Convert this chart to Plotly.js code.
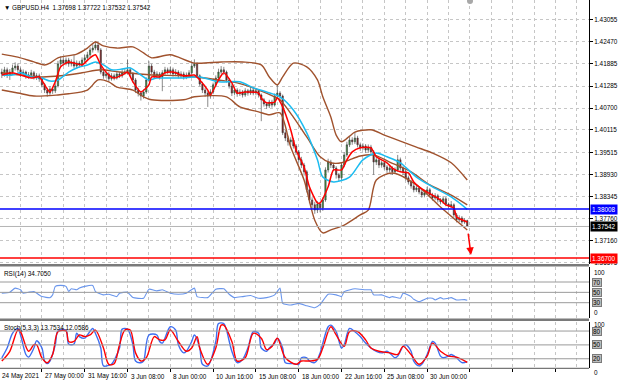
<!DOCTYPE html>
<html><head><meta charset="utf-8">
<script src="https://cdn.plot.ly/plotly-3.0.1.min.js"></script>
<style>html,body{margin:0;padding:0;background:#fff}#c{width:620px;height:383px}</style>
</head><body><div id="c"></div>
<script>
// ---------------- DATA (GBPUSD H4, bar index 0 = 24 May 2021) ----------------
const openP = [1.4166,1.4161,1.4172,1.4158,1.4166,1.4177,1.4182,1.4172,1.4161,1.4166,
1.4156,1.4158,1.4164,1.4153,1.4156,1.4148,1.4132,1.4118,1.4110,1.4121,
1.4116,1.4129,1.4188,1.4198,1.4190,1.4198,1.4188,1.4193,1.4182,1.4190,
1.4185,1.4198,1.4204,1.4212,1.4225,1.4230,1.4238,1.4225,1.4166,1.4156,
1.4161,1.4148,1.4156,1.4150,1.4161,1.4156,1.4164,1.4166,1.4172,1.4161,
1.4145,1.4118,1.4110,1.4102,1.4113,1.4145,1.4182,1.4166,1.4156,1.4161,
1.4153,1.4164,1.4172,1.4166,1.4172,1.4161,1.4166,1.4156,1.4161,1.4153,
1.4158,1.4164,1.4182,1.4188,1.4156,1.4134,1.4118,1.4110,1.4102,1.4113,
1.4132,1.4150,1.4166,1.4172,1.4166,1.4145,1.4129,1.4110,1.4118,1.4108,
1.4113,1.4105,1.4116,1.4110,1.4118,1.4110,1.4116,1.4105,1.4092,1.4081,
1.4076,1.4086,1.4078,1.4102,1.4110,1.4102,1.4004,1.3990,1.3980,1.3985,
1.3969,1.3953,1.3932,1.3918,1.3900,1.3852,1.3825,1.3812,1.3798,1.3814,
1.3804,1.3825,1.3905,1.3926,1.3918,1.3910,1.3892,1.3884,1.3918,1.3945,
1.3972,1.3985,1.3980,1.3990,1.3972,1.3964,1.3969,1.3958,1.3966,1.3953,
1.3926,1.3932,1.3918,1.3924,1.3913,1.3905,1.3910,1.3900,1.3905,1.3932,
1.3910,1.3900,1.3884,1.3873,1.3862,1.3852,1.3857,1.3846,1.3838,1.3844,
1.3852,1.3838,1.3830,1.3836,1.3825,1.3820,1.3828,1.3814,1.3809,1.3812,
1.3785,1.3772,1.3777,1.3766,1.37698];
const highP = [1.4175,1.4180,1.4178,1.4174,1.4186,1.4192,1.4189,1.4178,1.4173,1.4170,
1.4166,1.4172,1.4169,1.4163,1.4162,1.4154,1.4137,1.4124,1.4128,1.4127,
1.4136,1.4196,1.4208,1.4206,1.4205,1.4204,1.4200,1.4212,1.4197,1.4196,
1.4205,1.4212,1.4220,1.4232,1.4240,1.4249,1.4244,1.4230,1.4172,1.4168,
1.4166,1.4163,1.4162,1.4168,1.4166,1.4175,1.4176,1.4200,1.4178,1.4166,
1.4150,1.4124,1.4116,1.4120,1.4152,1.4195,1.4188,1.4172,1.4168,1.4166,
1.4171,1.4180,1.4178,1.4180,1.4178,1.4174,1.4171,1.4168,1.4167,1.4165,
1.4171,1.4190,1.4200,1.4192,1.4160,1.4140,1.4124,1.4115,1.4120,1.4138,
1.4157,1.4175,1.4182,1.4180,1.4170,1.4150,1.4134,1.4125,1.4123,1.4120,
1.4118,1.4123,1.4121,1.4126,1.4123,1.4122,1.4120,1.4109,1.4097,1.4086,
1.4092,1.4092,1.4109,1.4132,1.4115,1.4106,1.4012,1.3996,1.3992,1.3990,
1.3974,1.3958,1.3940,1.3924,1.3905,1.3860,1.3832,1.3820,1.3822,1.3820,
1.3832,1.3912,1.3935,1.3932,1.3924,1.3915,1.3897,1.3925,1.3952,1.3980,
1.3995,1.3992,1.4006,1.3996,1.3978,1.3976,1.3974,1.3973,1.3972,1.3958,
1.3940,1.3938,1.3930,1.3929,1.3918,1.3917,1.3915,1.3912,1.3945,1.3938,
1.3915,1.3905,1.3890,1.3878,1.3868,1.3864,1.3862,1.3852,1.3851,1.3860,
1.3857,1.3844,1.3843,1.3841,1.3830,1.3835,1.3833,1.3818,1.3822,1.3816,
1.3790,1.3784,1.3782,1.3776,1.37722];
const lowP = [1.4150,1.4154,1.4150,1.4145,1.4160,1.4170,1.4165,1.4152,1.4155,1.4148,
1.4148,1.4152,1.4146,1.4145,1.4140,1.4125,1.4110,1.4100,1.4103,1.4108,
1.4110,1.4125,1.4182,1.4183,1.4184,1.4180,1.4181,1.4176,1.4175,1.4178,
1.4180,1.4192,1.4198,1.4206,1.4218,1.4224,1.4218,1.4160,1.4148,1.4150,
1.4141,1.4143,1.4144,1.4146,1.4150,1.4151,1.4158,1.4160,1.4154,1.4138,
1.4110,1.4101,1.4090,1.4095,1.4108,1.4140,1.4160,1.4148,1.4150,1.4146,
1.4115,1.4158,1.4160,1.4160,1.4154,1.4155,1.4149,1.4150,1.4146,1.4147,
1.4152,1.4160,1.4177,1.4150,1.4128,1.4110,1.4100,1.4073,1.4095,1.4107,
1.4127,1.4145,1.4160,1.4158,1.4138,1.4122,1.4102,1.4104,1.4100,1.4102,
1.4098,1.4100,1.4103,1.4105,1.4104,1.4104,1.4098,1.4035,1.4074,1.4068,
1.4070,1.4071,1.4074,1.4096,1.4094,1.3998,1.3982,1.3970,1.3972,1.3962,
1.3945,1.3925,1.3910,1.3890,1.3845,1.3816,1.3800,1.3788,1.3790,1.3792,
1.3796,1.3820,1.3898,1.3910,1.3902,1.3882,1.3875,1.3878,1.3912,1.3940,
1.3966,1.3972,1.3974,1.3965,1.3956,1.3958,1.3950,1.3952,1.3946,1.3892,
1.3918,1.3910,1.3911,1.3906,1.3897,1.3898,1.3892,1.3894,1.3900,1.3903,
1.3892,1.3877,1.3866,1.3855,1.3845,1.3846,1.3840,1.3831,1.3832,1.3838,
1.3832,1.3823,1.3824,1.3818,1.3813,1.3814,1.3808,1.3802,1.3803,1.3778,
1.3765,1.3766,1.3760,1.3761,1.37532];
const closeP = [1.4161,1.4172,1.4158,1.4166,1.4177,1.4182,1.4172,1.4161,1.4166,1.4156,
1.4158,1.4164,1.4153,1.4156,1.4148,1.4132,1.4118,1.4110,1.4121,1.4116,
1.4129,1.4188,1.4198,1.4190,1.4198,1.4188,1.4193,1.4182,1.4190,1.4185,
1.4198,1.4204,1.4212,1.4225,1.4230,1.4238,1.4225,1.4166,1.4156,1.4161,
1.4148,1.4156,1.4150,1.4161,1.4156,1.4164,1.4166,1.4172,1.4161,1.4145,
1.4118,1.4110,1.4102,1.4113,1.4145,1.4182,1.4166,1.4156,1.4161,1.4153,
1.4164,1.4172,1.4166,1.4172,1.4161,1.4166,1.4156,1.4161,1.4153,1.4158,
1.4164,1.4182,1.4188,1.4156,1.4134,1.4118,1.4110,1.4102,1.4113,1.4132,
1.4150,1.4166,1.4172,1.4166,1.4145,1.4129,1.4110,1.4118,1.4108,1.4113,
1.4105,1.4116,1.4110,1.4118,1.4110,1.4116,1.4105,1.4092,1.4081,1.4076,
1.4086,1.4078,1.4102,1.4110,1.4102,1.4004,1.3990,1.3980,1.3985,1.3969,
1.3953,1.3932,1.3918,1.3900,1.3852,1.3825,1.3812,1.3798,1.3814,1.3804,
1.3825,1.3905,1.3926,1.3918,1.3910,1.3892,1.3884,1.3918,1.3945,1.3972,
1.3985,1.3980,1.3990,1.3972,1.3964,1.3969,1.3958,1.3966,1.3953,1.3926,
1.3932,1.3918,1.3924,1.3913,1.3905,1.3910,1.3900,1.3905,1.3932,1.3910,
1.3900,1.3884,1.3873,1.3862,1.3852,1.3857,1.3846,1.3838,1.3844,1.3852,
1.3838,1.3830,1.3836,1.3825,1.3820,1.3828,1.3814,1.3809,1.3812,1.3785,
1.3772,1.3777,1.3766,1.3770,1.37542];

// Bollinger bands (20)
const upperBars = [0,6,12,16,18,21,28,32,35,38,43,49,53,56,63,72,82,90,97,100,103,105,109,114,118,120,123,125,127,130,132,138,143,149,155,161,168,174];
const upperVals = [1.4214,1.4206,1.4193,1.4185,1.4190,1.4204,1.4214,1.4230,1.4246,1.4236,1.4230,1.4233,1.4217,1.4204,1.4212,1.4190,1.4193,1.4193,1.4185,1.4153,1.4132,1.4153,1.4190,1.4180,1.4145,1.4100,1.4046,1.3998,1.3980,1.3995,1.4006,1.4012,1.3998,1.3982,1.3966,1.3950,1.3924,1.3878];
const midBars = [0,7,15,22,30,37,44,56,68,81,88,96,102,104,109,114,119,123,127,130,134,139,145,153,160,168,174];
const midVals = [1.4164,1.4158,1.4153,1.4156,1.4164,1.4172,1.4166,1.4158,1.4156,1.4145,1.4137,1.4118,1.4100,1.4092,1.4046,1.3993,1.3940,1.3924,1.3924,1.3932,1.3942,1.3945,1.3926,1.3900,1.3865,1.3838,1.3812];
const lowerBars = [0,6,12,21,25,32,36,40,43,49,53,56,68,72,84,89,96,100,104,108,113,117,120,123,128,134,137,140,146,155,164,174];
const lowerVals = [1.4118,1.4110,1.4102,1.4105,1.4108,1.4118,1.4145,1.4140,1.4126,1.4118,1.4100,1.4092,1.4092,1.4100,1.4100,1.4073,1.4060,1.4052,1.4057,1.3966,1.3878,1.3771,1.3737,1.3745,1.3758,1.3785,1.3798,1.3878,1.3897,1.3865,1.3806,1.3745];
// slow MA (cyan)
const cyanBars = [0,4,7,11,15,18,21,25,28,32,35,38,41,45,48,52,55,58,67,74,81,89,94,99,104,109,114,118,120,124,130,135,140,144,149,155,161,168,174];
const cyanVals = [1.4158,1.4158,1.4164,1.4153,1.4150,1.4142,1.4145,1.4166,1.4177,1.4185,1.4193,1.4185,1.4172,1.4174,1.4177,1.4158,1.4145,1.4150,1.4150,1.4153,1.4140,1.4140,1.4124,1.4113,1.4100,1.4065,1.4004,1.3932,1.3886,1.3873,1.3886,1.3932,1.3950,1.3940,1.3924,1.3886,1.3860,1.3833,1.3800];
// fast MA (red)
const redBars = [0,4,7,11,14,16,18,20,22,25,27,30,33,35,37,40,42,45,47,49,52,55,56,59,61,64,68,72,74,77,78,81,83,86,88,91,96,97,99,102,103,105,108,110,113,115,118,119,122,124,127,129,131,134,138,140,144,146,149,152,154,156,159,161,164,166,169,170,172,174];
const redVals = [1.4158,1.4164,1.4158,1.4150,1.4153,1.4132,1.4113,1.4140,1.4180,1.4193,1.4190,1.4185,1.4204,1.4212,1.4185,1.4158,1.4150,1.4158,1.4166,1.4140,1.4113,1.4132,1.4153,1.4153,1.4164,1.4166,1.4156,1.4158,1.4145,1.4118,1.4105,1.4145,1.4164,1.4137,1.4110,1.4113,1.4110,1.4097,1.4084,1.4086,1.4097,1.4073,1.4012,1.3958,1.3913,1.3860,1.3817,1.3817,1.3860,1.3905,1.3905,1.3932,1.3953,1.3964,1.3964,1.3940,1.3924,1.3910,1.3900,1.3897,1.3873,1.3860,1.3846,1.3838,1.3825,1.3812,1.3804,1.3780,1.3772,1.3766];

// RSI(14)
const rsiBars = [0,3,5,7,8,10,12,15,18,19,20,22,24,25,26,28,29,31,34,35,38,40,43,44,47,49,53,55,58,60,63,66,69,72,73,77,80,83,85,87,90,93,96,99,102,104,105,108,111,114,117,119,122,125,127,128,132,136,138,139,142,145,146,149,150,153,154,156,159,161,162,164,165,167,168,170,173,174];
const rsiVals = [48.4,50.3,58.2,54.9,48.4,50.3,51.6,41.8,39.8,45.1,61.5,63.4,61.5,51.6,56.9,54.9,58.2,61.5,63.4,51.6,45.1,46.4,41.8,48.4,50.3,39.8,38.5,56.2,52.9,54.9,48.4,46.4,48.4,58.2,41.8,39.8,56.2,56.9,46.4,39.8,41.8,43.8,38.5,39.8,45.1,58.2,28.7,25.4,28.7,24.1,20.1,26.7,46.4,45.1,41.8,51.6,56.9,54.9,54.9,45.1,45.1,39.8,41.8,38.5,48.4,41.8,36.5,32,38.5,38.5,35.2,39.8,37.2,38.5,39.8,35.2,35.9,34.7];
// Stochastic(5,3,3)
const stochMainBars = [0,2,4,6,7,9,10,12,13,15,16,17,18,20,21,24,25,27,28,29,31,32,34,35,37,38,40,41,44,45,47,49,50,52,53,55,58,59,60,63,65,66,68,69,71,72,74,75,77,80,81,83,84,86,88,90,92,94,96,97,99,100,102,103,105,106,109,111,112,114,115,117,118,119,122,123,125,127,128,130,132,134,136,138,140,142,144,145,147,148,150,151,153,154,156,157,159,161,162,164,165,167,168,170,172,174];
const stochMainVals = [22.1,43.3,75.1,85.6,71.5,29.2,23.5,43.3,58.8,43.3,15.1,9.4,15.1,50.4,80,82.1,51.8,51.8,75.1,68,64.5,71.5,85.6,75.1,43.3,4.5,5.9,8,43.3,84.2,84.2,50.4,15.1,11.5,15.1,71.5,71.5,57.4,53.9,89.2,82.1,50.4,32.7,36.2,57.4,71.5,43.3,8,4.5,57.4,96.2,96.2,82.1,36.2,11.5,18.6,43.3,78.6,75.1,43.3,36.2,43.3,53.9,64.5,43.3,11.5,9.4,8,22.1,22.1,15.1,11.5,18.6,32.7,89.2,92.7,78.6,43.3,50.4,85.6,78.6,68,53.9,43.3,36.2,32.7,36.2,32.7,22.1,25.7,46.8,50.4,36.2,15.1,4.5,8,29.2,57.4,53.9,25.7,22.1,25.7,29.2,22.1,11.5,13.75];
const stochSigBars = [0,3,6,7,10,12,13,15,17,19,21,24,25,27,29,31,33,35,38,40,42,44,46,48,50,52,54,57,59,61,63,66,69,71,73,74,77,80,82,83,86,88,91,94,97,99,101,103,106,110,112,115,118,120,123,125,128,130,133,136,138,141,145,148,150,153,156,159,161,164,167,170,174];
const stochSigVals = [15.1,36.2,82.1,78.6,36.2,50.4,50.4,22.1,11.5,29.2,78.6,80,57.4,57.4,71.5,68,71.5,82.1,43.3,8,9.4,50.4,82.1,82.1,32.7,15.1,22.1,68,60.9,60.9,82.1,57.4,36.2,43.3,68,43.3,8,43.3,92.7,92.7,57.4,15.1,22.1,75.1,64.5,39.8,46.8,64.5,22.1,8,15.1,15.1,18.6,43.3,89.2,71.5,46.8,78.6,78.6,60.9,43.3,36.2,32.7,29.2,46.8,29.2,8,25.7,53.9,36.2,25.7,23.5,12.06];

const priceTicks = [1.43055,1.42470,1.41885,1.41285,1.40700,1.40115,1.39515,1.38930,1.38345,1.37760,1.37160,1.36575];
const dateTickBars = [0,15,31,47,63,79,95,111,127,143,159];
const dateTickLabels = ['24 May 2021','27 May 00:00','31 May 16:00','3 Jun 08:00','8 Jun 00:00','10 Jun 16:00','15 Jun 08:00','18 Jun 00:00','22 Jun 16:00','25 Jun 08:00','30 Jun 00:00'];
const supportLevel = 1.38008;   // blue line
const targetLevel = 1.36700;    // red line
const lastPrice = 1.37542;
const rsiLevels = [70,50,30];
const stochLevels = [80,50,20];
const titleText = '▼ GBPUSD.H4  1.37698 1.37722 1.37532 1.37542';
const rsiTitle = 'RSI(14) 34.7050';
const stochTitle = 'Stoch(5,3,3) 13.7534 12.0586';

// ---------------- LAYOUT ----------------
const W = 620, H = 383, PLOT_R = 589;
const PX_BAR = 2.675, BAR0_PX = 1.8;
const xRange = [-BAR0_PX / PX_BAR, (PLOT_R - BAR0_PX) / PX_BAR];
const py = px => 1 - px / H;
const mainDom = [py(264), py(0)];
const rsiDom = [py(318.2), py(266.5)];
const stDom = [py(368), py(321.8)];
const FONT = 'Liberation Sans, Arial, DejaVu Sans, sans-serif';
const FS = 6.4;
const GRID = '#c6c6c6';
const bars = closeP.map((_, i) => i);
const nBars = xRange[1];
const gridMajor = [], gridMinor = [];
for (let b = 15; b < nBars; b += 16) gridMajor.push(b);
for (let b = 7; b < nBars; b += 16) gridMinor.push(b);

function xa(anchor, ticks) {
  return {
    anchor: anchor, range: xRange, domain: [0, 1], fixedrange: true,
    showgrid: true, gridcolor: GRID, griddash: 'dot', gridwidth: 1,
    tickvals: gridMajor, showticklabels: false, zeroline: false,
    ticks: ticks ? 'outside' : '', ticklen: 3, tickcolor: '#000',
    showline: false,
    minor: {tickvals: gridMinor, showgrid: true, gridcolor: GRID, griddash: 'dot', ticks: ''},
    rangeslider: {visible: false}
  };
}

const line = (x, y, color, w, xax, yax, smooth) => ({
  type: 'scatter', mode: 'lines', x: x, y: y, xaxis: xax, yaxis: yax,
  line: {color: color, width: w, shape: 'spline', smoothing: smooth}, hoverinfo: 'skip'
});

const traces = [
  line(upperBars, upperVals, '#a0522d', 1.4, 'x', 'y', 0.8),
  line(midBars, midVals, '#a0522d', 1.4, 'x', 'y', 0.8),
  line(lowerBars, lowerVals, '#a0522d', 1.4, 'x', 'y', 0.8),
  {
    type: 'candlestick', x: bars, open: openP, high: highP, low: lowP, close: closeP,
    xaxis: 'x', yaxis: 'y', whiskerwidth: 0, hoverinfo: 'skip',
    increasing: {line: {color: '#3a3a3a', width: 0.6}, fillcolor: '#3c9b3c'},
    decreasing: {line: {color: '#3a3a3a', width: 0.6}, fillcolor: '#8e1c1c'}
  },
  line(cyanBars, cyanVals, '#1cbcf0', 1.5, 'x', 'y', 0.8),
  line(redBars, redVals, '#ff0000', 1.5, 'x', 'y', 0.6),
  line(rsiBars, rsiVals, '#6a96ec', 1.1, 'x2', 'y2', 0.4),
  line(stochMainBars, stochMainVals, '#3f6ff0', 1.4, 'x3', 'y3', 0.9),
  line(stochSigBars, stochSigVals, '#ff0000', 1.4, 'x3', 'y3', 0.9)
];

const shapes = [];
const hline = (y, yref, color, w) => shapes.push({type: 'line', xref: 'paper', x0: 0, x1: 1, yref: yref, y0: y, y1: y, line: {color: color, width: w}, layer: 'above'});
hline(lastPrice, 'y', '#b4b4b4', 1);
hline(supportLevel, 'y', '#0000ff', 1.5);
hline(targetLevel, 'y', '#ff0000', 1.5);
rsiLevels.forEach(v => hline(v, 'y2', '#9a9a9a', 1));
stochLevels.forEach(v => hline(v, 'y3', '#9a9a9a', 1));
// pane separators
const sep = (a, b) => shapes.push({type: 'rect', xref: 'paper', yref: 'paper', x0: 0, x1: 1, y0: py(b), y1: py(a), fillcolor: '#7a7a7a', line: {width: 0}, layer: 'above'});
sep(264, 266.5);
sep(318.5, 321);
shapes.push({type: 'line', xref: 'paper', yref: 'paper', x0: 0, x1: 1, y0: py(368.3), y1: py(368.3), line: {color: '#555', width: 1}});
// small marker at top
shapes.push({type: 'circle', xref: 'paper', yref: 'paper', x0: 467 / PLOT_R, x1: 473 / PLOT_R, y0: py(4), y1: py(-2), fillcolor: '#a8a8a8', line: {width: 0}});

const ann = [];
const txt = (o) => ann.push(Object.assign({showarrow: false, font: {family: FONT, size: FS, color: '#000'}}, o));
txt({xref: 'paper', yref: 'paper', x: 0, y: py(2), xanchor: 'left', yanchor: 'top', xshift: 2, text: titleText});
txt({xref: 'paper', yref: 'paper', x: 0, y: py(267.5), xanchor: 'left', yanchor: 'top', xshift: 2, text: rsiTitle});
txt({xref: 'paper', yref: 'paper', x: 0, y: py(322), xanchor: 'left', yanchor: 'top', xshift: 2, text: stochTitle});
// price boxes
const box = (v, bg) => txt({xref: 'paper', yref: 'y', x: 1, y: v, xanchor: 'left', yanchor: 'middle', xshift: 1, text: v.toFixed(5), bgcolor: bg, borderpad: 1, font: {family: FONT, size: FS, color: '#fff'}});
box(supportLevel, '#0000ff');
box(lastPrice, '#000000');
box(targetLevel, '#ff0000');
// indicator axis labels
const side = (v, yref, t, anchor, boxed, ys) => txt(Object.assign({xref: 'paper', yref: yref, x: 1, y: v, xanchor: 'left', yanchor: anchor, xshift: 3, yshift: ys || 0, text: t}, boxed ? {bgcolor: '#bdbdbd', bordercolor: '#7a7a7a', borderwidth: 1, borderpad: 0} : {}));
side(100, 'y2', '100', 'top', false);
side(0, 'y2', '0', 'bottom', false);
rsiLevels.forEach(v => side(v, 'y2', String(v), 'middle', true));
side(100, 'y3', '100', 'top', false, 3);
side(0, 'y3', '0', 'top', false, 1);
stochLevels.forEach(v => side(v, 'y3', String(v), 'middle', true));
// date labels
dateTickBars.forEach((b, i) => txt({xref: 'x3', yref: 'paper', x: b, y: py(376), xanchor: 'left', yanchor: 'middle', xshift: i === 0 ? -2 : 1, text: dateTickLabels[i]}));
// forecast arrow
ann.push({xref: 'x', yref: 'y', x: 175.4, y: 1.3678, ax: -3, ay: -23, text: '', showarrow: true, arrowhead: 2, arrowsize: 1, arrowwidth: 1.5, arrowcolor: '#ff0000', standoff: 0});

const layout = {
  width: W, height: H, margin: {l: 0, r: W - PLOT_R, t: 0, b: 0},
  paper_bgcolor: '#fff', plot_bgcolor: '#fff', showlegend: false,
  font: {family: FONT, size: FS, color: '#000'},
  xaxis: xa('y', false), xaxis2: xa('y2', false), xaxis3: xa('y3', true),
  yaxis: {domain: mainDom, range: [1.36541, 1.43582], side: 'right', anchor: 'x',
    tickvals: priceTicks, tickformat: '.5f', ticks: 'outside', ticklen: 3, tickcolor: '#000',
    tickfont: {family: FONT, size: FS, color: '#000'},
    showline: true, linecolor: '#000', linewidth: 1, mirror: false,
    showgrid: true, gridcolor: GRID, griddash: 'dot', zeroline: false, fixedrange: true},
  yaxis2: {domain: rsiDom, range: [0, 100], side: 'right', anchor: 'x2', showticklabels: false, ticks: '',
    showline: true, linecolor: '#000', showgrid: false, zeroline: false, fixedrange: true},
  yaxis3: {domain: stDom, range: [0, 100], side: 'right', anchor: 'x3', showticklabels: false, ticks: '',
    showline: true, linecolor: '#000', showgrid: false, zeroline: false, fixedrange: true},
  shapes: shapes, annotations: ann
};
Plotly.newPlot('c', traces, layout, {staticPlot: true, displayModeBar: false});
</script></body></html>
